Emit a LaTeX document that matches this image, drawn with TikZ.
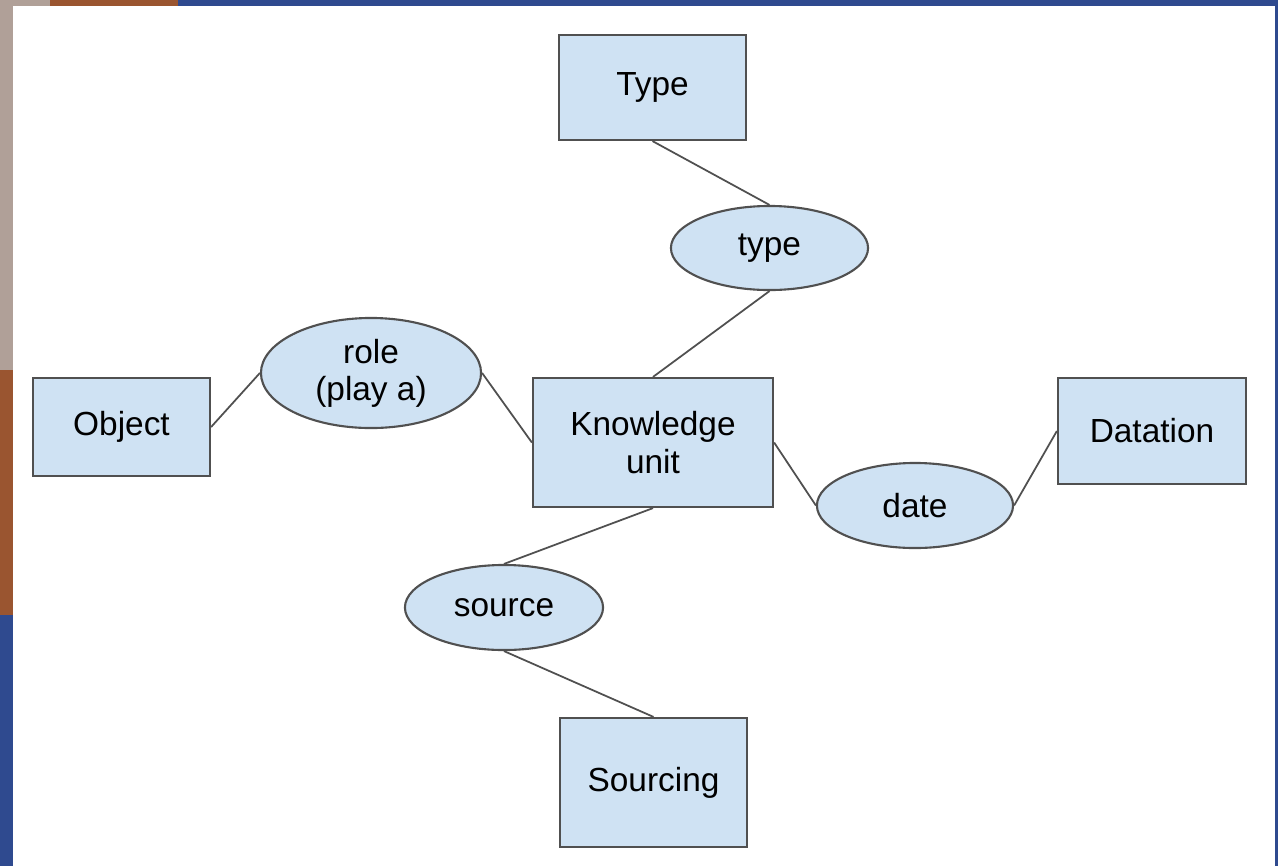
\documentclass[tikz,border=0pt]{standalone}
\usepackage{fontspec}
\setmainfont{Liberation Sans}
\usetikzlibrary{shapes.geometric}
\definecolor{boxfill}{HTML}{CFE2F3}
\definecolor{boxline}{HTML}{505050}
\definecolor{bgblue}{HTML}{2F4A8F}
\definecolor{bgorange}{HTML}{9A5530}
\definecolor{bggrey}{HTML}{B0A098}
\tikzset{
  entity/.style={draw=boxline, line width=0.6pt, fill=boxfill, inner sep=0pt, align=center, font=\fontsize{9.5}{10.6}\selectfont},
  relation/.style={ellipse, draw=boxline, line width=0.6pt, fill=boxfill, inner sep=0pt, align=center, font=\fontsize{9.5}{10.6}\selectfont},
  link/.style={draw=boxline, line width=0.5pt}
}
\begin{document}
\begin{tikzpicture}[x=0.01cm, y=-0.01cm]
\useasboundingbox (0,0) rectangle (1278,866);
% background frame
\fill[bgblue] (0,0) rectangle (1278,866);
\fill[bggrey] (0,0) rectangle (50,6);
\fill[bgorange] (50,0) rectangle (178,6);
\fill[bggrey] (0,0) rectangle (13,370);
\fill[bgorange] (0,370) rectangle (13,615);
\fill[white] (13,6) rectangle (1275,866);
% nodes
\node[entity, minimum width=1.87cm, minimum height=1.05cm] (typebox) at (652.5,87.5) {Type};
\node[relation, minimum width=1.97cm, minimum height=0.84cm] (typerel) at (769.5,248) {type};
\node[entity, minimum width=1.77cm, minimum height=0.98cm] (object) at (121.5,427) {Object};
\node[relation, minimum width=2.20cm, minimum height=1.10cm] (role) at (371,373) {role\\(play a)};
\node[entity, minimum width=2.40cm, minimum height=1.29cm] (ku) at (653,442.5) {Knowledge\\unit};
\node[entity, minimum width=1.88cm, minimum height=1.06cm] (datation) at (1152,431) {Datation};
\node[relation, minimum width=1.96cm, minimum height=0.85cm] (date) at (915,505.5) {date};
\node[relation, minimum width=1.98cm, minimum height=0.85cm] (source) at (504,607.5) {source};
\node[entity, minimum width=1.87cm, minimum height=1.29cm] (sourcing) at (653.5,782.5) {Sourcing};
% connectors
\draw[link] (typebox.south) -- (typerel.north);
\draw[link] (typerel.south) -- (ku.north);
\draw[link] (object.east) -- (role.west);
\draw[link] (role.east) -- (ku.west);
\draw[link] (ku.east) -- (date.west);
\draw[link] (date.east) -- (datation.west);
\draw[link] (ku.south) -- (source.north);
\draw[link] (source.south) -- (sourcing.north);
\end{tikzpicture}
\end{document}
